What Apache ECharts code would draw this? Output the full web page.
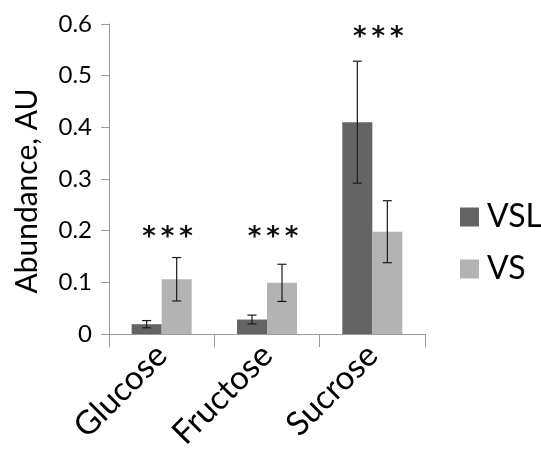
<!DOCTYPE html>
<html>
<head>
<meta charset="utf-8">
<script src="https://cdn.jsdelivr.net/npm/echarts@6/dist/echarts.min.js"></script>
<style>html,body{margin:0;padding:0;background:#fff}#c{width:541px;height:453px}</style>
</head>
<body>
<div id="c"></div>
<script>
const categories = ['Glucose', 'Fructose', 'Sucrose'];
const seriesNames = ['VSL', 'VS'];
const vslValues = [0.019, 0.028, 0.410];
const vsValues = [0.106, 0.099, 0.198];
const vslErrors = [0.007, 0.0085, 0.118];
const vsErrors = [0.042, 0.036, 0.060];
const starLevels = [0.186, 0.186, 0.572];
const starLabels = ['***', '***', '***'];
const yTicks = [0, 0.1, 0.2, 0.3, 0.4, 0.5, 0.6];

const FONT = 'Lato';
const GAP = 0.43;
const colors = ['#646464', '#b3b3b3'];

function errSeries(values, errors, side) {
  return {
    type: 'custom',
    silent: true,
    z: 5,
    data: values.map((v, i) => [i, v, errors[i]]),
    renderItem: function (params, api) {
      const i = api.value(0), v = api.value(1), e = api.value(2);
      const band = api.size([1, 0])[0];
      const bw = band * (1 - GAP) / 2;
      const x = api.coord([i, v])[0] + side * bw / 2;
      const yt = api.coord([i, v + e])[1];
      const yb = api.coord([i, v - e])[1];
      const cap = 4.5;
      const st = { stroke: '#1a1a1a', lineWidth: 1.2 };
      return {
        type: 'group',
        children: [
          { type: 'line', shape: { x1: x, y1: yt, x2: x, y2: yb }, style: st },
          { type: 'line', shape: { x1: x - cap, y1: yt, x2: x + cap, y2: yt }, style: st },
          { type: 'line', shape: { x1: x - cap, y1: yb, x2: x + cap, y2: yb }, style: st }
        ]
      };
    }
  };
}

const chart = echarts.init(document.getElementById('c'), null, { renderer: 'canvas' });
chart.setOption({
  animation: false,
  backgroundColor: '#ffffff',
  color: colors,
  grid: { left: 109, right: 116, top: 24, bottom: 119, containLabel: false, outerBoundsMode: 'none' },
  legend: {
    orient: 'vertical',
    left: 455,
    top: 196,
    itemWidth: 19,
    itemHeight: 19,
    itemGap: 20,
    icon: 'rect',
    data: seriesNames,
    textStyle: { fontFamily: FONT, fontSize: 32, color: '#000', padding: [0, 0, 0, 3] }
  },
  xAxis: {
    type: 'category',
    data: categories,
    axisLine: { lineStyle: { color: '#9a9a9a', width: 1 } },
    axisTick: { show: true, length: 13, lineStyle: { color: '#9a9a9a' } },
    axisLabel: { rotate: 45, margin: 16, fontFamily: FONT, fontSize: 33, color: '#000' },
    splitLine: { show: false }
  },
  yAxis: {
    type: 'value',
    min: yTicks[0],
    max: yTicks[yTicks.length - 1],
    interval: 0.1,
    name: 'Abundance, AU',
    nameLocation: 'middle',
    nameGap: 67,
    nameRotate: 90,
    nameTextStyle: { fontFamily: FONT, fontSize: 30, color: '#000', padding: [0, 24, 0, 0] },
    axisLine: { show: true, lineStyle: { color: '#9a9a9a', width: 1 } },
    axisTick: { show: true, length: 8, lineStyle: { color: '#9a9a9a' } },
    axisLabel: { margin: 17, fontFamily: FONT, fontSize: 24, color: '#000' },
    splitLine: { show: false }
  },
  series: [
    { name: 'VSL', type: 'bar', data: vslValues, barGap: '0%', barCategoryGap: (GAP * 100) + '%', itemStyle: { color: colors[0] } },
    { name: 'VS', type: 'bar', data: vsValues, barGap: '0%', barCategoryGap: (GAP * 100) + '%', itemStyle: { color: colors[1] } },
    errSeries(vslValues, vslErrors, -1),
    errSeries(vsValues, vsErrors, 1),
    {
      type: 'custom',
      silent: true,
      z: 6,
      data: starLevels.map((v, i) => [i, v]),
      renderItem: function (params, api) {
        const p = api.coord([api.value(0), api.value(1)]);
        const txt = starLabels[params.dataIndex];
        const kids = [];
        const n = txt.length;
        for (let k = 0; k < n; k++) {
          kids.push({
            type: 'text',
            x: p[0] + 6 + (k - (n - 1) / 2) * 18.5,
            y: p[1],
            style: { text: txt[k], fontFamily: 'DejaVu Sans', fontWeight: 'bold', fontSize: 26, fill: '#111', align: 'center', verticalAlign: 'middle' }
          });
        }
        return { type: 'group', children: kids };
      }
    }
  ]
});
</script>
</body>
</html>
